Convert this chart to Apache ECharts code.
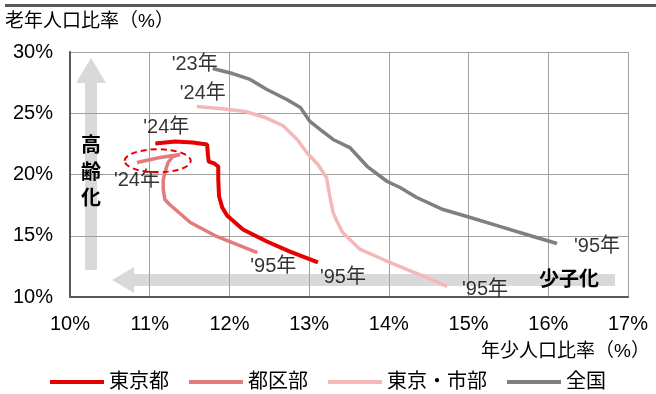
<!DOCTYPE html>
<html>
<head>
<meta charset="utf-8">
<script src="https://cdn.jsdelivr.net/npm/echarts@6/dist/echarts.min.js"></script>
<style>
  html, body { margin: 0; padding: 0; background: #fff; }
  #main { width: 656px; height: 394px; }
</style>
</head>
<body>
<div id="main"></div>
<script>
// 年少人口比率(x) と 老年人口比率(y) の推移（1995年 → 最新年の順）
const seriesNames = ['東京都', '都区部', '東京・市部', '全国'];

const tokyoChild = [13.11, 12.76, 12.47, 12.17, 11.97, 11.91, 11.87, 11.86, 11.86, 11.81, 11.74, 11.73, 11.72, 11.54, 11.32, 11.07];
const tokyoElder = [12.82, 13.71, 14.53, 15.51, 16.65, 17.31, 18.20, 19.59, 20.65, 20.90, 21.06, 21.63, 22.45, 22.61, 22.69, 22.53];

const kubuChild = [12.35, 11.84, 11.51, 11.25, 11.19, 11.17, 11.17, 11.19, 11.23, 11.29, 11.38, 11.13, 10.84];
const kubuElder = [13.63, 14.94, 16.08, 17.55, 17.96, 18.78, 19.59, 20.16, 20.98, 21.47, 21.63, 21.39, 20.98];

const shibuChild = [14.73, 14.48, 14.23, 13.93, 13.64, 13.42, 13.35, 13.30, 13.26, 13.22, 13.11, 12.97, 12.85, 12.67, 12.45, 12.20, 11.88, 11.59];
const shibuElder = [10.86, 11.59, 12.24, 13.06, 13.88, 15.27, 16.16, 16.90, 18.20, 19.71, 20.82, 21.80, 22.86, 24.00, 24.65, 25.14, 25.39, 25.55];

const zenkokuChild = [16.11, 15.81, 15.39, 14.98, 14.68, 14.35, 14.14, 13.98, 13.73, 13.51, 13.30, 13.14, 13.01, 12.89, 12.72, 12.47, 12.26, 12.04, 11.79];
const zenkokuElder = [14.37, 14.94, 15.76, 16.57, 17.14, 18.12, 18.94, 19.43, 20.65, 22.20, 22.86, 23.67, 24.33, 25.47, 26.12, 26.94, 27.76, 28.24, 28.65];

const startYearLabels = ["'95年", "'95年", "'95年", "'95年"];
const endYearLabels = ["'24年", "'24年", "'24年", "'23年"];

const xTicks = { min: 10, max: 17, step: 1 };
const yTicks = { min: 10, max: 30, step: 5 };

const colors = ['#e60000', '#e47b7b', '#f4b8b8', '#7f7f7f'];
const lineWidths = [4, 3.5, 3.5, 3.5];
// 年ラベルの配置（始点, 終点）
const labelOffsets = [
  [[25, 15], [11, -16]],
  [[16, 14], [0, 18]],
  [[38, 3], [6, -13]],
  [[40, 3], [-18, -4]]
];

const FONT = '"Liberation Sans", Arial, "Noto Sans CJK JP", sans-serif';
const xs = [tokyoChild, kubuChild, shibuChild, zenkokuChild];
const ys = [tokyoElder, kubuElder, shibuElder, zenkokuElder];

const zip = (a, b) => a.map((v, i) => [v, b[i]]);

const lineSeries = seriesNames.map((name, i) => ({
  name: name,
  type: 'line',
  data: zip(xs[i], ys[i]),
  symbol: 'none',
  smooth: false,
  color: colors[i],
  lineStyle: { color: colors[i], width: lineWidths[i] },
  z: 3 + (3 - i),
  silent: true
}));

const labelData = [];
seriesNames.forEach((name, i) => {
  const n = xs[i].length;
  labelData.push({ name: startYearLabels[i], value: [xs[i][0], ys[i][0]], label: { offset: labelOffsets[i][0] } });
  labelData.push({ name: endYearLabels[i], value: [xs[i][n - 1], ys[i][n - 1]], label: { offset: labelOffsets[i][1] } });
});

const chart = echarts.init(document.getElementById('main'), null, { renderer: 'canvas' });

chart.setOption({
  animation: false,
  backgroundColor: '#fff',
  textStyle: { fontFamily: FONT },
  grid: { left: 70, right: 28, top: 52, bottom: 97, containLabel: false },
  legend: {
    data: seriesNames,
    left: 50,
    top: 372,
    padding: 0,
    icon: 'rect',
    itemWidth: 54,
    itemHeight: 4,
    itemGap: 20,
    textStyle: { fontSize: 20, color: '#000', fontFamily: FONT },
    selectedMode: false
  },
  xAxis: {
    type: 'value',
    min: xTicks.min, max: xTicks.max, interval: xTicks.step,
    axisLine: { show: true, lineStyle: { color: '#595959', width: 2 } },
    axisTick: { show: false },
    splitLine: { show: true, lineStyle: { color: '#a0a0a0', width: 1 } },
    axisLabel: { formatter: '{value}%', fontSize: 20, color: '#000', margin: 17, fontFamily: FONT }
  },
  yAxis: {
    type: 'value',
    min: yTicks.min, max: yTicks.max, interval: yTicks.step,
    axisLine: { show: true, lineStyle: { color: '#595959', width: 2 } },
    axisTick: { show: false },
    splitLine: { show: true, lineStyle: { color: '#a0a0a0', width: 1 } },
    axisLabel: { formatter: '{value}%', fontSize: 20, color: '#000', margin: 17, fontFamily: FONT }
  },
  series: lineSeries.concat([{
    name: 'yearLabels',
    type: 'scatter',
    data: labelData,
    symbolSize: 1,
    itemStyle: { color: 'rgba(0,0,0,0)' },
    silent: true,
    z: 10,
    label: {
      show: true,
      position: 'inside',
      formatter: '{b}',
      fontSize: 20,
      color: '#000',
      fontFamily: FONT
    }
  }])
});

// 注記（矢印・見出し・楕円）
const ellipseCenter = chart.convertToPixel({ gridIndex: 0 }, [11.10, 21.12]);

chart.setOption({
  graphic: [
    { type: 'rect', z: 0, shape: { x: 5, y: 4, width: 651, height: 3 }, style: { fill: '#595959' } },
    { type: 'text', z: 5, x: 5, y: 22, style: { text: '老年人口比率（%）', fill: '#000', font: '19px ' + FONT, textVerticalAlign: 'middle' } },
    { type: 'text', z: 5, x: 650, y: 352, style: { text: '年少人口比率（%）', fill: '#000', font: '19px ' + FONT, textAlign: 'right', textVerticalAlign: 'middle' } },
    { type: 'polygon', z: -1, shape: { points: [[91, 58], [106, 83], [97, 83], [97, 270], [85, 270], [85, 83], [76, 83]] }, style: { fill: '#d9d9d9' } },
    { type: 'polygon', z: -1, shape: { points: [[112, 280], [134, 267], [134, 274], [615, 274], [615, 286], [134, 286], [134, 293]] }, style: { fill: '#d9d9d9' } },
    { type: 'text', z: 5, x: 91, y: 173, style: { text: '高\n齢\n化', fill: '#000', font: 'bold 20px ' + FONT, textAlign: 'center', textVerticalAlign: 'middle', lineHeight: 26.5 } },
    { type: 'text', z: 5, x: 569, y: 280, style: { text: '少子化', fill: '#000', font: 'bold 20px ' + FONT, textAlign: 'center', textVerticalAlign: 'middle' } },
    { type: 'ellipse', z: 20, shape: { cx: ellipseCenter[0], cy: ellipseCenter[1], rx: 33, ry: 11.5 }, style: { fill: 'none', stroke: '#e60000', lineWidth: 2, lineDash: [6, 4] } }
  ]
});
</script>
</body>
</html>
